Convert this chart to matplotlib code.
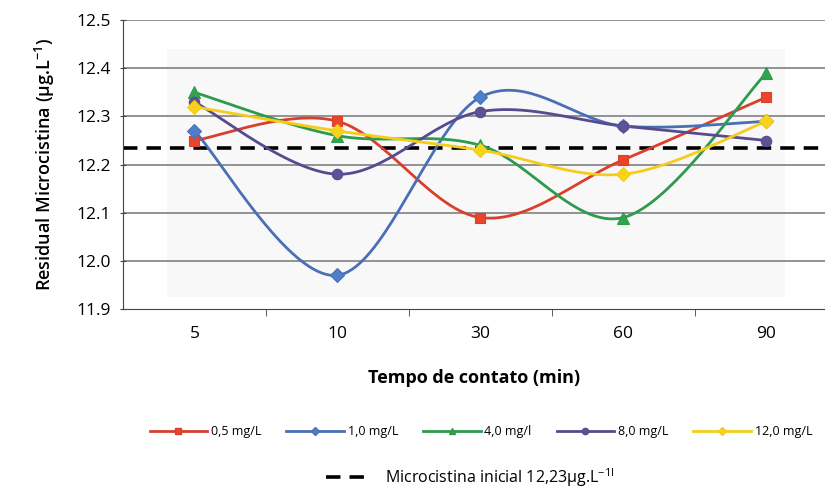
"""
Residual microcystin vs contact time (smoothed lines, Excel style)
"""

import matplotlib
matplotlib.use('Agg')
import matplotlib.pyplot as plt
import numpy as np

plt.rcParams['font.family'] = ['Open Sans', 'DejaVu Sans']

# data
tempos = ['5', '10', '30', '60', '90']
dose_05 = [12.25, 12.29, 12.09, 12.21, 12.34]
dose_10 = [12.27, 11.97, 12.34, 12.28, 12.29]
dose_40 = [12.35, 12.26, 12.24, 12.09, 12.39]
dose_80 = [12.33, 12.18, 12.31, 12.28, 12.25]
dose_120 = [12.32, 12.27, 12.23, 12.18, 12.29]
microcistina_inicial = 12.235

series = [
    ('0,5 mg/L', dose_05, '#d9402b', '#e8452c', 's', 7),
    ('1,0 mg/L', dose_10, '#4a6fb5', '#4f7fc8', 'D', 7),
    ('4,0 mg/l', dose_40, '#2e9a4c', '#33a350', '^', 8),
    ('8,0 mg/L', dose_80, '#574a8f', '#5e5399', 'o', 7.5),
    ('12,0 mg/L', dose_120, '#f5cc1a', '#f9d21c', 'D', 7),
]


def smooth(x, y, n=40):
    """Bezier smoothing like Excel's smoothed line"""
    p = np.column_stack([x, y]).astype(float)
    pts = [p[0]]
    for i in range(len(p) - 1):
        p0 = p[i - 1] if i > 0 else p[i]
        p1 = p[i]
        p2 = p[i + 1]
        p3 = p[i + 2] if i + 2 < len(p) else p[i + 1]
        c1 = p1 + (p2 - p0) / 6.0
        c2 = p2 - (p3 - p1) / 6.0
        t = np.linspace(0, 1, n)[1:, None]
        seg = ((1 - t) ** 3 * p1 + 3 * (1 - t) ** 2 * t * c1
               + 3 * (1 - t) * t ** 2 * c2 + t ** 3 * p2)
        pts.extend(seg)
    pts = np.array(pts)
    return pts[:, 0], pts[:, 1]


fig = plt.figure(figsize=(8.25, 4.92), dpi=100)
ax = fig.add_axes([0.149, 0.372, 0.851, 0.587])

x = np.arange(len(tempos))

# faint plot area background
ax.axhspan(11.925, 12.44, xmin=0.063, xmax=0.943, color='#f8f8f8', zorder=0, lw=0)

for val in [12.0, 12.1, 12.2, 12.3, 12.4, 12.5]:
    ax.axhline(val, color='#8a8a8a', lw=1.3, zorder=1)

ax.axhline(microcistina_inicial, color='black', lw=2.6, ls=(0, (4, 2.5)), zorder=2,
           label='Microcistina inicial 12,23µg.L$^{\\mathregular{-1l}}$')

handles = []
for label, vals, lc, mc, mk, ms in series:
    sx, sy = smooth(x, vals)
    ax.plot(sx, sy, color=lc, lw=2, zorder=3)
    ax.plot(x, vals, ls='none', marker=mk, color=mc, markersize=ms,
            markeredgecolor=lc, markeredgewidth=0.8, zorder=4)
    h, = ax.plot([], [], color=lc, lw=2, marker=mk, markersize=4.5,
                 markerfacecolor=mc, markeredgecolor=lc, label=label)
    handles.append(h)

ax.set_xlim(-0.5, 4.41)
ax.set_ylim(11.9, 12.5)
ax.set_yticks([11.9, 12.0, 12.1, 12.2, 12.3, 12.4, 12.5])
ax.set_yticklabels(['11.9', '12.0', '12.1', '12.2', '12.3', '12.4', '12.5'], fontsize=12.5)
ax.set_xticks(x)
ax.set_xticklabels(tempos, fontsize=12.5)
ax.set_xticks(np.arange(0.5, 4, 1), minor=True)
ax.tick_params(axis='x', which='major', length=0, pad=12)
ax.tick_params(axis='x', which='minor', length=5, direction='out', color='#444444')
ax.tick_params(axis='y', length=5, direction='inout', color='#444444', pad=6)

for s in ['top', 'right']:
    ax.spines[s].set_visible(False)
ax.spines['left'].set_color('#444444')
ax.spines['bottom'].set_color('#444444')

ax.set_xlabel('Tempo de contato (min)', fontsize=13, fontweight='bold', labelpad=20)
ax.set_ylabel('Residual Microcistina (µg.L$^{\\mathregular{-1}}$)', fontsize=13,
              fontweight='semibold', labelpad=14)

fig.legend(handles=handles, loc='center', bbox_to_anchor=(0.583, 0.122), ncol=5,
           frameon=False, fontsize=9, handlelength=4.6, columnspacing=2.0,
           handletextpad=0.3)
dash = ax.get_lines()[6]
fig.legend(handles=[dash], loc='center', bbox_to_anchor=(0.57, 0.03), frameon=False,
           fontsize=11.5, handlelength=2.5, handletextpad=1.2)

plt.savefig('out.png', dpi=100)
plt.close()
